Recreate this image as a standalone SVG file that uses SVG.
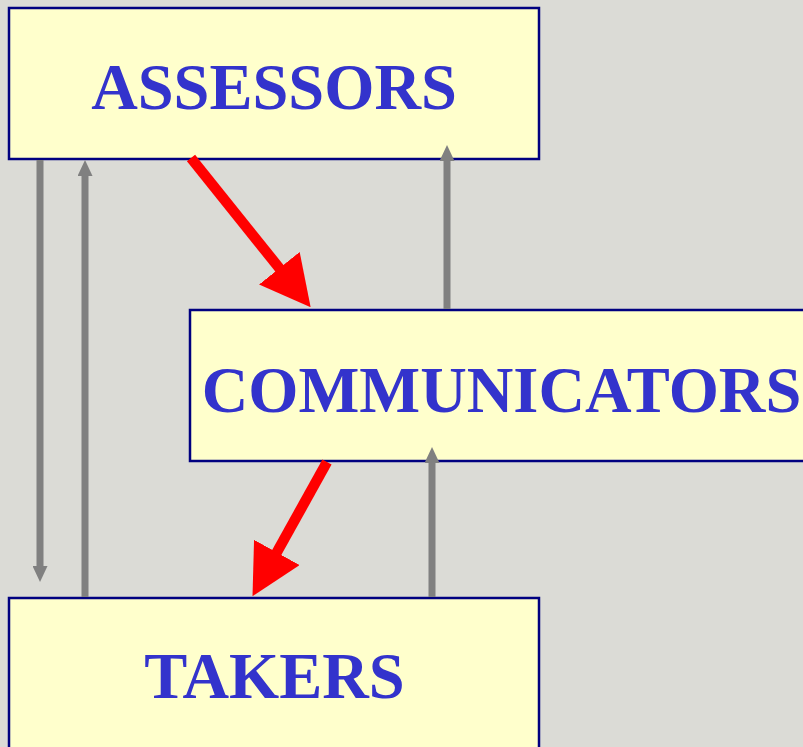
<svg xmlns="http://www.w3.org/2000/svg" width="803" height="747" viewBox="0 0 803 747">
  <style>
    .box { fill: #FFFFCC; stroke: #000080; stroke-width: 2.5; }
    .lbl { font-family: "Liberation Serif", "Times New Roman", serif; font-weight: bold; font-size: 64.5px; fill: #3333CC; text-anchor: middle; }
    .gray { stroke: #808080; stroke-width: 7; fill: none; marker-end: url(#gh); }
    .red { stroke: #FF0000; stroke-width: 10.5; fill: none; marker-end: url(#rh); }
  </style>
  <defs>
    <marker id="gh" markerUnits="userSpaceOnUse" markerWidth="16" markerHeight="15" refX="0" refY="7.5" orient="auto" viewBox="0 0 16 15">
      <path d="M0,0 L16,7.5 L0,15 z" fill="#808080"/>
    </marker>
    <marker id="rh" markerUnits="userSpaceOnUse" markerWidth="50" markerHeight="52" refX="1" refY="26" orient="auto" viewBox="0 0 50 52">
      <path d="M0,0 L50,26 L0,52 z" fill="#FF0000"/>
    </marker>
  </defs>
  <rect width="803" height="747" fill="#DBDBD6"/>
  <g id="assessors">
    <rect class="box" x="9" y="8" width="530" height="151"/>
    <text class="lbl" x="274" y="109">ASSESSORS</text>
  </g>
  <g id="communicators">
    <rect class="box" x="190" y="310" width="630" height="151"/>
    <text class="lbl" x="501.5" y="412">COMMUNICATORS</text>
  </g>
  <g id="takers">
    <rect class="box" x="9" y="598" width="530" height="170"/>
    <text class="lbl" x="274.5" y="698">TAKERS</text>
  </g>
  <g id="connectors">
    <line class="gray" x1="40" y1="160" x2="40" y2="566"/>
    <line class="gray" x1="85" y1="597" x2="85" y2="176"/>
    <line class="gray" x1="447" y1="309" x2="447" y2="161"/>
    <line class="gray" x1="432" y1="597" x2="432" y2="463"/>
    <line class="red" x1="191" y1="158" x2="280" y2="269"/>
    <line class="red" x1="327" y1="462" x2="276.3" y2="553.3"/>
  </g>
</svg>
